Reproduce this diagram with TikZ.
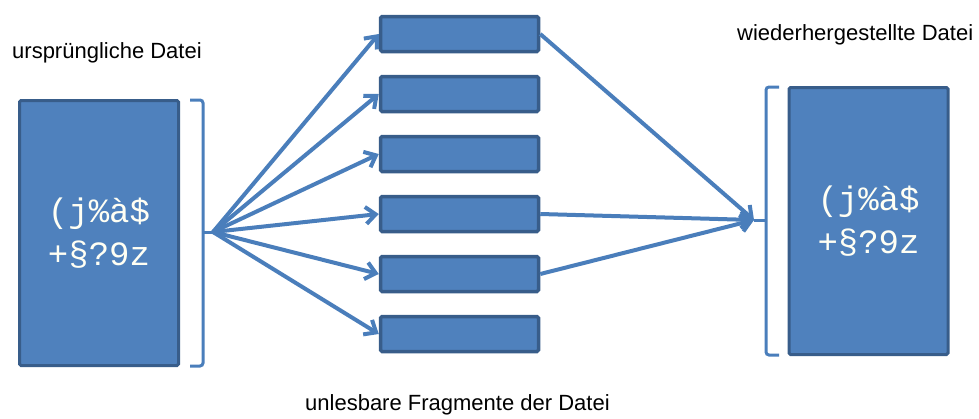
\documentclass[tikz,border=0pt]{standalone}
\usepackage{fontspec}
\setmainfont{Liberation Sans}
\newfontfamily\glyphfont{Liberation Mono}
\usetikzlibrary{arrows.meta}

\definecolor{boxfill}{HTML}{4F81BD}
\definecolor{boxline}{HTML}{385D8A}
\definecolor{flow}{HTML}{4A7EBB}
\definecolor{glyph}{HTML}{FFFFF4}

\tikzset{
  filebox/.style={draw=boxline, fill=boxfill, line width=3pt, rounded corners=1.5pt,
    minimum width=159pt, align=center, text=glyph, inner sep=0pt,
    font=\glyphfont\fontsize{34}{43}\selectfont},
  fragbox/.style={draw=boxline, fill=boxfill, line width=3.5pt, rounded corners=1.5pt,
    minimum width=158pt, minimum height=35pt, inner sep=0pt},
  bracketline/.style={draw=flow, line width=3pt, rounded corners=3pt},
  flowarrow/.style={draw=flow, line width=4pt,
    -{Straight Barb[length=10pt,width=17pt,line width=4pt]}},
  caption/.style={inner sep=0pt, anchor=base west, font=\fontsize{22}{26}\selectfont}
}

\begin{document}
\begin{tikzpicture}[x=1pt,y=-1pt]
  \useasboundingbox (0,0) rectangle (979,418);

  % captions
  \node[caption] (lblsrc) at (12,58) {ursprüngliche Datei};
  \node[caption] (lbldst) at (737,40) {wiederhergestellte Datei};
  \node[caption] (lblfrag) at (305,410) {unlesbare Fragmente der Datei};

  % original and restored file
  \node[filebox, minimum height=265pt] (src) at (99,233) {(j\%à\$\\+§?9z};
  \node[filebox, minimum height=267pt] (dst) at (868.5,221) {(j\%à\$\\+§?9z};

  % unreadable fragments
  \foreach \i/\y in {1/34,2/94,3/154,4/214,5/274,6/334}
    \node[fragbox] (f\i) at (459.5,\y) {};

  % brackets with their stubs
  \draw[bracketline] (190,100) -- (203,100) -- (203,366) -- (190,366);
  \coordinate (split) at (213,232);
  \draw[flow, line width=3pt] (203,232) -- (split);

  \draw[bracketline] (779,87) -- (766,87) -- (766,355) -- (779,355);
  \coordinate (join) at (754,220);
  \draw[flow, line width=3pt] (766,220) -- (join);

  % splitting into fragments
  \foreach \i in {1,...,6}
    \draw[flowarrow] (split) -- (f\i.west);

  % recombining the needed fragments
  \foreach \i in {1,4,5}
    \draw[flowarrow] (f\i.east) -- (join);
\end{tikzpicture}
\end{document}
